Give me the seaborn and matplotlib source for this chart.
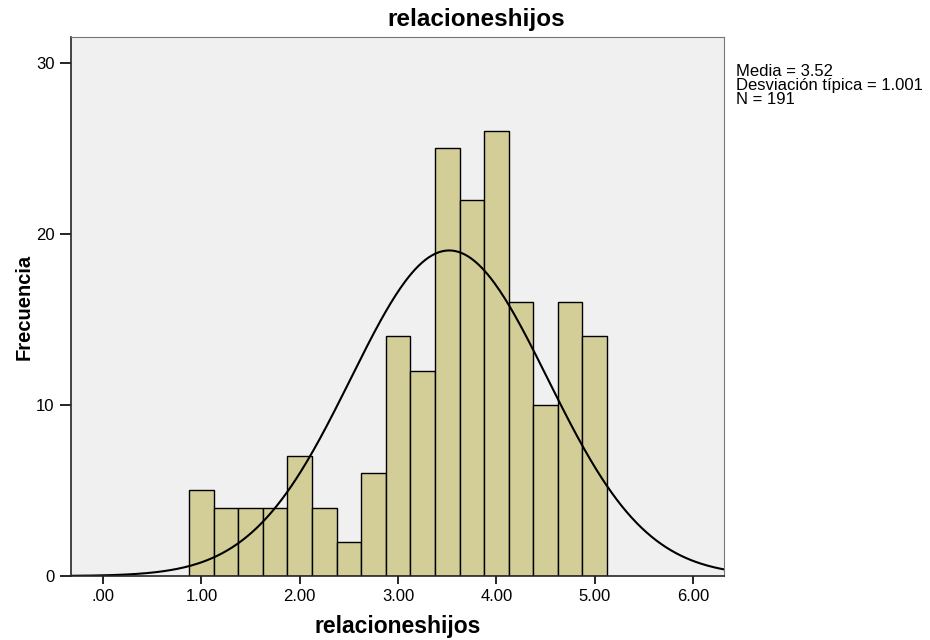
import numpy as np
import pandas as pd
import matplotlib
matplotlib.use("Agg")
import matplotlib.pyplot as plt
import seaborn as sns

# bin centres and frequencies
bin_centres = [1.00, 1.25, 1.50, 1.75, 2.00, 2.25, 2.50, 2.75, 3.00, 3.25,
               3.50, 3.75, 4.00, 4.25, 4.50, 4.75, 5.00]
frecuencias = [5, 4, 4, 4, 7, 4, 2, 6, 14, 12, 25, 22, 26, 16, 10, 16, 14]
bin_width = 0.25
media = 3.52
desv = 1.001
n_total = 191
x_ticks = [0, 1, 2, 3, 4, 5, 6]
x_labels = [".00", "1.00", "2.00", "3.00", "4.00", "5.00", "6.00"]
y_ticks = [0, 10, 20, 30]

sns.set_style("ticks", {'text.color': 'black', 'xtick.color': 'black',
                        'ytick.color': 'black', 'axes.labelcolor': 'black'})
plt.rcParams['font.family'] = ['Liberation Sans Narrow', 'Liberation Sans', 'DejaVu Sans']

df = pd.DataFrame({'relacioneshijos': bin_centres, 'freq': frecuencias})
lo = bin_centres[0] - bin_width / 2
hi = bin_centres[-1] + bin_width / 2

fig = plt.figure(figsize=(9.3, 6.4), dpi=100)
ax = fig.add_axes([0.076, 0.1, 0.703, 0.842])
ax.set_facecolor('#f0f0f0')

sns.histplot(data=df, x='relacioneshijos', weights='freq', binwidth=bin_width,
             binrange=(lo, hi), color='#d3ce97', edgecolor='black',
             linewidth=1, alpha=1, ax=ax)

# normal curve scaled to the counts
xs = np.linspace(-0.35, 6.35, 400)
ys = n_total * bin_width * np.exp(-0.5 * ((xs - media) / desv) ** 2) / (desv * np.sqrt(2 * np.pi))
sns.lineplot(x=xs, y=ys, color='black', linewidth=1.5, ax=ax)

ax.set_xlim(-0.33, 6.32)
ax.set_ylim(0, 31.5)
ax.set_xticks(x_ticks)
ax.set_xticklabels(x_labels)
ax.set_yticks(y_ticks)
ax.tick_params(axis='both', labelsize=12, length=6, width=1.2, color='black',
               labelcolor='black')
ax.tick_params(axis='y', length=8)

ax.spines['left'].set_linewidth(1.2)
ax.spines['bottom'].set_linewidth(1.2)
ax.spines['top'].set_color('#777777')
ax.spines['right'].set_color('#777777')
ax.spines['top'].set_linewidth(0.8)
ax.spines['right'].set_linewidth(0.8)

fig.suptitle('relacioneshijos', x=0.512, y=0.987, va='top',
             fontsize=17.5, fontweight='bold', color='black')
ax.set_xlabel('relacioneshijos', fontsize=16.5, fontweight='bold', labelpad=8,
              color='black')
ax.set_ylabel('Frecuencia', fontsize=14.5, fontweight='bold', labelpad=2,
              color='black')

fig.text(0.791, 0.9, 'Media = 3.52\nDesviación típica = 1.001\nN = 191',
         fontsize=12, va='top', ha='left', linespacing=0.9, color='black')

fig.savefig('out.png', dpi=100)
